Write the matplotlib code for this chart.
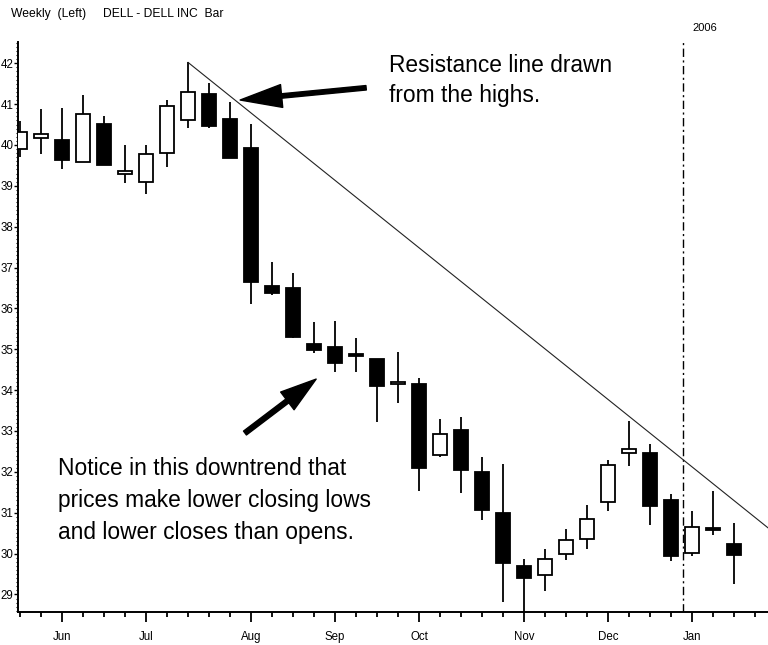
import matplotlib
matplotlib.use("Agg")
import matplotlib.pyplot as plt
from matplotlib.patches import FancyArrowPatch
from matplotlib.ticker import MultipleLocator, FixedLocator
import numpy as np

# ---- data (weekly DELL candles, Jun 2005 - Jan 2006) ----
opens  = [39.89, 40.16, 40.12, 39.58, 40.51, 39.30, 39.09, 39.81, 40.61, 41.24,
          40.64, 39.92, 36.56, 36.51, 35.13, 35.06, 34.88, 34.76, 34.16, 34.14,
          32.41, 33.02, 31.99, 31.00, 29.69, 29.47, 29.99, 30.36, 31.25, 32.47,
          32.45, 31.31, 30.02, 30.62, 30.23]
highs  = [40.59, 40.87, 40.90, 41.22, 40.72, 40.00, 40.00, 41.10, 42.02, 41.51,
          41.05, 40.51, 37.14, 36.86, 35.66, 35.69, 35.27, 34.76, 34.93, 34.29,
          33.29, 33.35, 32.37, 32.18, 29.86, 30.11, 30.60, 31.19, 32.29, 33.25,
          32.68, 31.46, 31.05, 31.53, 30.76]
lows   = [39.71, 39.78, 39.40, 39.58, 39.51, 39.06, 38.79, 39.47, 40.42, 40.42,
          39.67, 36.11, 36.33, 35.27, 34.90, 34.44, 34.44, 33.23, 33.69, 31.54,
          32.36, 31.49, 30.82, 28.82, 28.30, 29.09, 29.84, 30.11, 31.04, 32.14,
          30.70, 29.82, 29.94, 30.45, 29.25]
closes = [40.32, 40.26, 39.63, 40.75, 39.51, 39.36, 39.79, 40.96, 41.29, 40.47,
          39.67, 36.65, 36.38, 35.31, 34.98, 34.66, 34.84, 34.10, 34.21, 32.09,
          32.93, 32.04, 31.06, 29.76, 29.39, 29.87, 30.33, 30.84, 32.17, 32.56,
          31.16, 29.94, 30.64, 30.58, 29.96]
month_labels = ["Jun", "Jul", "Aug", "Sep", "Oct", "Nov", "Dec", "Jan"]
month_weeks = [2, 6, 11, 15, 19, 24, 28, 32]
y_ticks = [29, 30, 31, 32, 33, 34, 35, 36, 37, 38, 39, 40, 41, 42]
trend_x = [8, 35.62]
trend_y = [42.02, 30.63]
year_break_week = 31.57
year_label = "2006"

FONT = ["Liberation Sans", "DejaVu Sans"]
plt.rcParams["font.family"] = FONT

fig = plt.figure(figsize=(7.68, 6.45), dpi=100)
ax = fig.add_axes([18 / 768, 33 / 645, 750 / 768, 570 / 645])

x = np.arange(len(opens))
o = np.array(opens); c = np.array(closes)
h = np.array(highs); l = np.array(lows)
up = c >= o

# wicks
ax.vlines(x, l, h, color="black", linewidth=1.3, zorder=2)
# bodies
bottoms = np.minimum(o, c)
heights = np.maximum(np.abs(c - o), 0.03)
ax.bar(x, heights, bottom=bottoms, width=0.64,
       color=np.where(up, "white", "black"), edgecolor="black",
       linewidth=1.3, zorder=3)

# resistance line
ax.plot(trend_x, trend_y, color="#222222", linewidth=0.8, zorder=4,
        clip_on=False)

# year break
ax.axvline(year_break_week, color="black", linewidth=1.0,
           linestyle=(0, (6, 2.5, 1.5, 2.5)), zorder=1)
ax.text(year_break_week + 1.05, 42.86, year_label, fontsize=8,
        ha="center", va="center", clip_on=False)

ax.set_xlim(-0.1, 35.62)
ax.set_ylim(28.57, 42.52)

# spines
for s in ["top", "right"]:
    ax.spines[s].set_visible(False)
for s in ["left", "bottom"]:
    ax.spines[s].set_linewidth(1.4)

# ticks
ax.xaxis.set_major_locator(FixedLocator(month_weeks))
ax.set_xticklabels(month_labels, fontsize=8.3)
ax.xaxis.set_minor_locator(FixedLocator(list(range(0, 36))))
ax.tick_params(axis="x", which="major", length=7, width=1.3, pad=7)
ax.tick_params(axis="x", which="minor", length=3.5, width=1.3)

ax.yaxis.set_major_locator(FixedLocator(y_ticks))
ax.set_yticklabels([str(v) for v in y_ticks], fontsize=8.3)
ax.yaxis.set_minor_locator(MultipleLocator(0.1))
ax.tick_params(axis="y", which="major", length=3, width=1.0, pad=0.3)
ax.tick_params(axis="y", which="minor", length=1.5, width=0.8)

# header
fig.text(11 / 768, 1 - 14 / 645,
         "Weekly  (Left)     DELL - DELL INC  Bar",
         fontsize=8.7, ha="left", va="center")

# annotations
ax.text(17.57, 42.22, "Resistance line drawn\nfrom the highs.",
        fontsize=16.4, ha="left", va="top", linespacing=1.38)
ax.text(1.81, 32.36,
        "Notice in this downtrend that\nprices make lower closing lows\nand lower closes than opens.",
        fontsize=16.4, ha="left", va="top", linespacing=1.5)

a1 = FancyArrowPatch((16.48, 41.40), (10.48, 41.10),
                     arrowstyle="simple,head_length=30,head_width=16.5,tail_width=3.2",
                     mutation_scale=1, color="black", shrinkA=0, shrinkB=0,
                     zorder=6)
ax.add_patch(a1)
a2 = FancyArrowPatch((10.71, 32.95), (14.10, 34.27),
                     arrowstyle="simple,head_length=26,head_width=16,tail_width=3.5",
                     mutation_scale=1, color="black", shrinkA=0, shrinkB=0,
                     zorder=6)
ax.add_patch(a2)

fig.savefig("out.png", dpi=100)
